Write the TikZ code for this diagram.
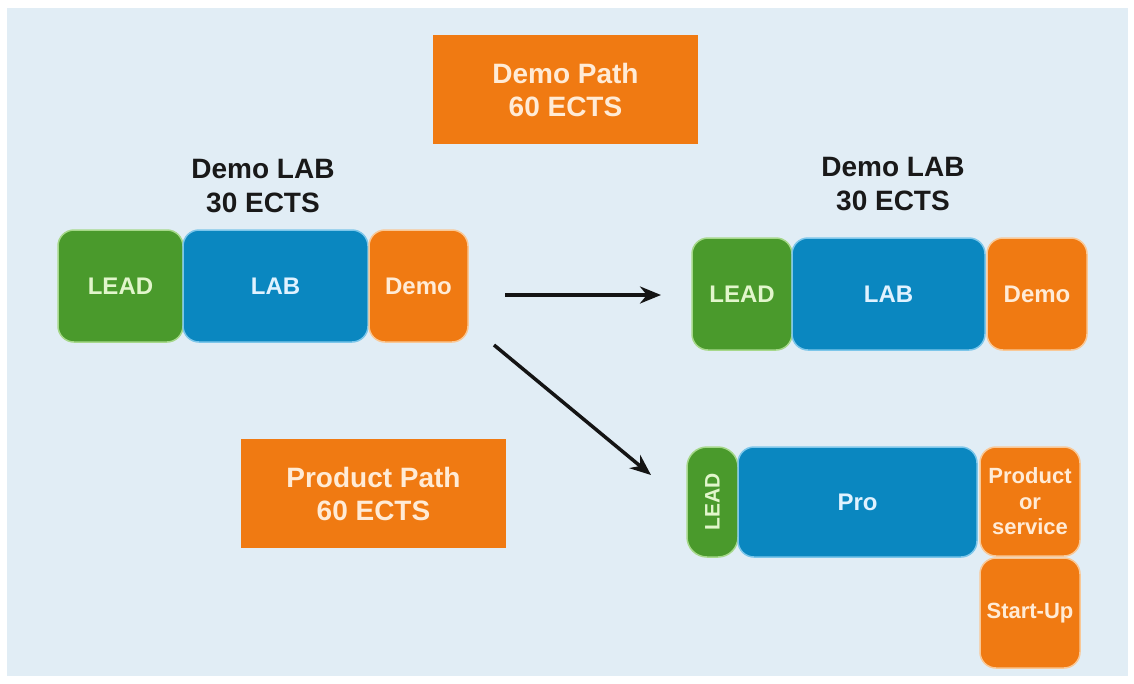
\documentclass[tikz,border=0pt]{standalone}
\usepackage{fontspec}
\setmainfont{Liberation Sans}
\usetikzlibrary{arrows.meta}
\definecolor{bg}{HTML}{E1EDF5}
\definecolor{cgreen}{HTML}{4A9A2C}
\definecolor{cgreenl}{HTML}{A6D88A}
\definecolor{cblue}{HTML}{0A87C0}
\definecolor{cbluel}{HTML}{7CC6EA}
\definecolor{corange}{HTML}{F07A12}
\definecolor{corangel}{HTML}{F9C896}
\definecolor{tgreen}{HTML}{E2F6CC}
\definecolor{tblue}{HTML}{E0F2FF}
\definecolor{torange}{HTML}{FFEBD6}
\begin{document}
\begin{tikzpicture}[x=1pt,y=-1pt,
  blk/.style={rounded corners=16pt, line width=1.5pt, inner sep=0pt, align=center,
    font=\bfseries\fontsize{24}{28}\selectfont},
  gbox/.style={blk, fill=cgreen, draw=cgreenl, text=tgreen},
  bbox/.style={blk, fill=cblue, draw=cbluel, text=tblue},
  obox/.style={blk, fill=corange, draw=corangel, text=torange},
  smalltext/.style={font=\bfseries\fontsize{22}{25.5}\selectfont},
  pathbox/.style={fill=corange, draw=none, minimum width=265pt, minimum height=109pt,
    text=torange, align=center, font=\bfseries\fontsize{28}{33}\selectfont},
  titletext/.style={align=center, font=\bfseries\fontsize{28}{34}\selectfont, text=black!90},
  arr/.style={line width=3.5pt, draw=black!92, -{Stealth[length=21pt,width=17pt]}}]
\useasboundingbox (0,0) rectangle (1134,683);
\fill[white] (0,0) rectangle (1134,683);
\fill[bg] (7,8) rectangle (1128,676);

% path boxes
\node[pathbox] (demopath) at (565.5,89.5) {Demo Path\\60 ECTS};
\node[pathbox] (prodpath) at (373.5,493.5) {Product Path\\60 ECTS};

% titles
\node[titletext] (ltitle) at (263,186) {Demo LAB\\30 ECTS};
\node[titletext] (rtitle) at (893,184) {Demo LAB\\30 ECTS};

% left row
\node[gbox, minimum width=125pt, minimum height=112pt] (llead) at (120.5,286) {LEAD};
\node[bbox, minimum width=185pt, minimum height=112pt] (llab) at (275.5,286) {LAB};
\node[obox, minimum width=99pt, minimum height=112pt] (ldemo) at (418.5,286) {Demo};

% right row
\node[gbox, minimum width=100pt, minimum height=112pt] (rlead) at (742,294) {LEAD};
\node[bbox, minimum width=193pt, minimum height=112pt] (rlab) at (888.5,294) {LAB};
\node[obox, minimum width=100pt, minimum height=112pt] (rdemo) at (1037,294) {Demo};

% product row
\node[gbox, rotate=90, rounded corners=20pt, minimum width=110pt, minimum height=51pt,
      font=\bfseries\fontsize{21}{24}\selectfont] (plead) at (712.5,502) {LEAD};
\node[bbox, minimum width=239pt, minimum height=110pt] (ppro) at (857.5,502) {Pro};
\node[obox, smalltext, minimum width=100pt, minimum height=109pt] (pserv) at (1030,501.5) {Product\\or\\service};
\node[obox, smalltext, minimum width=100pt, minimum height=110pt] (pstart) at (1030,613) {Start-Up};

% arrows
\coordinate (a1s) at (505,295);
\coordinate (a1e) at (661,295);
\coordinate (a2s) at (494,345);
\coordinate (a2e) at (651,475);
\draw[arr] (a1s) -- (a1e);
\draw[arr] (a2s) -- (a2e);
\end{tikzpicture}
\end{document}
